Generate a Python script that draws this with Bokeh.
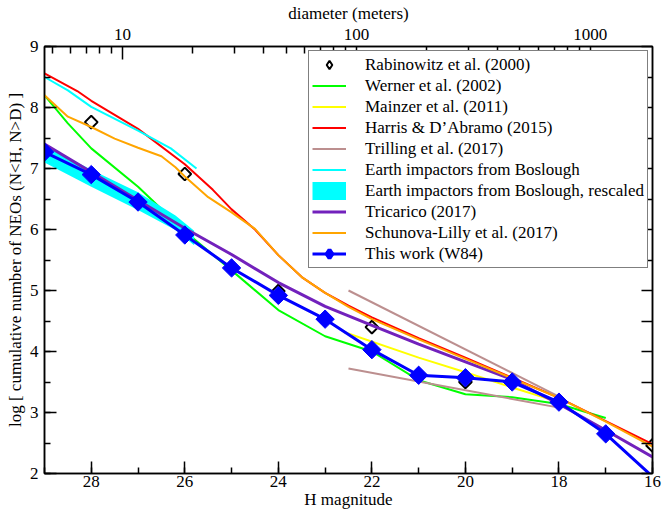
import numpy as np
from bokeh.plotting import figure
from bokeh.models import (Range1d, LinearAxis, LogAxis, LogScale, FixedTicker,
                          SingleIntervalTicker, Legend, LegendItem, NumeralTickFormatter)
from bokeh.embed import file_html
from bokeh.resources import INLINE

FONT = "Liberation Serif"

# ---------------- data ----------------
rab_h = [28, 26, 24, 22, 20, 16]
rab_v = [7.76, 6.91, 4.99, 4.40, 3.50, 2.46]

werner_h = [29, 28.5, 28, 27, 26, 25, 24, 23, 22, 21, 20, 19, 18, 17]
werner_v = [8.20, 7.74, 7.33, 6.70, 5.97, 5.33, 4.68, 4.25, 4.00, 3.53, 3.30, 3.25, 3.14, 2.91]

mainzer_h = [22.6, 21, 20, 19, 18]
mainzer_v = [4.32, 3.90, 3.66, 3.41, 3.17]

harris_h = [29, 28.3, 28, 27, 26, 25.4, 25, 24.5, 24, 23.5, 23, 22.5, 22, 21, 20, 19, 18, 17, 16]
harris_v = [8.56, 8.27, 8.11, 7.65, 7.07, 6.65, 6.33, 6.00, 5.58, 5.22, 4.96, 4.75, 4.56,
            4.22, 3.90, 3.57, 3.24, 2.86, 2.48]

trilling_hi_h = [22.5, 18.0]
trilling_hi_v = [5.00, 3.26]
trilling_lo_h = [22.5, 18.0]
trilling_lo_v = [3.72, 3.08]

bos_h = [29, 28.5, 28, 27, 26.3, 25.75]
bos_v = [8.50, 8.28, 8.01, 7.62, 7.33, 7.00]

bosr_h = [29, 28, 27, 26.2, 25.8]
bosr_lo = [7.10, 6.70, 6.32, 5.99, 5.74]
bosr_hi = [7.38, 6.98, 6.61, 6.23, 5.98]

tric_h = [29, 28, 27, 26.5, 26, 25, 24, 23, 22, 21, 20, 19, 18, 17, 16]
tric_v = [7.40, 6.94, 6.48, 6.25, 6.02, 5.59, 5.13, 4.74, 4.43, 4.12, 3.83, 3.54, 3.14, 2.71, 2.27]

schun_h = [29, 28.5, 28, 27.5, 27, 26.5, 26.2, 26, 25.5, 25, 24.5, 24, 23.5, 23, 22.5, 22,
           21, 20, 19, 18, 17, 16]
schun_v = [8.20, 7.85, 7.68, 7.49, 7.34, 7.20, 7.02, 6.87, 6.53, 6.28, 6.01, 5.58, 5.22, 4.96,
           4.73, 4.53, 4.20, 3.88, 3.56, 3.24, 2.85, 2.44]

work_h = [29, 28, 27, 26, 25, 24, 23, 22, 21, 20, 19, 18, 17, 16]
work_v = [7.27, 6.90, 6.45, 5.91, 5.37, 4.92, 4.53, 4.03, 3.61, 3.57, 3.50, 3.17, 2.65, 1.95]

diam_major = [10, 100, 1000]
diam_minor = [5, 6, 7, 8, 9, 20, 30, 40, 50, 60, 70, 80, 90,
              200, 300, 400, 500, 600, 700, 800, 900]
right_ticks = [2, 2.5, 3, 3.5, 4, 4.5, 5, 5.5, 6, 6.5, 7, 7.5, 8, 8.5, 9]

H_MIN, H_MAX = 16, 29
H_1KM = 17.33  # H of a 1 km body for the top axis conversion


def diam(h):
    return 1000.0 * 10 ** ((H_1KM - h) / 5.0)


# ---------------- figure ----------------
p = figure(width=662, height=512, x_range=Range1d(H_MAX, H_MIN), y_range=Range1d(2, 9),
           output_backend="svg", toolbar_location=None,
           x_axis_location=None, y_axis_location=None,
           min_border_left=44, min_border_right=10, min_border_top=46, min_border_bottom=39)
p.grid.visible = False
p.outline_line_color = "black"
p.outline_line_width = 1.5
p.background_fill_color = "white"
p.border_fill_color = "white"

p.extra_x_ranges = {"diam": Range1d(diam(H_MAX), diam(H_MIN))}
p.extra_x_scales = {"diam": LogScale()}


def style(ax, major=12, minor=6):
    ax.major_label_text_font = FONT
    ax.major_label_text_font_size = "17px"
    ax.major_label_text_color = "black"
    ax.axis_label_text_font = FONT
    ax.axis_label_text_font_size = "17px"
    ax.axis_label_text_font_style = "normal"
    ax.axis_label_text_color = "black"
    ax.major_tick_in = major
    ax.major_tick_out = 0
    ax.minor_tick_in = minor
    ax.minor_tick_out = 0
    ax.axis_line_width = 1.5
    ax.major_tick_line_width = 1.5
    ax.minor_tick_line_width = 1.5
    ax.axis_line_color = "black"
    ax.major_tick_line_color = "black"
    ax.minor_tick_line_color = "black"


xb = LinearAxis(ticker=SingleIntervalTicker(interval=2, num_minor_ticks=2), axis_label="H magnitude")
style(xb)
xb.major_label_standoff = 2
xb.axis_label_standoff = 0
p.add_layout(xb, "below")

yl = LinearAxis(ticker=SingleIntervalTicker(interval=1, num_minor_ticks=2),
                axis_label="log [ cumulative number of NEOs (N<H, N>D) ]")
style(yl)
yl.major_label_standoff = 6
yl.axis_label_standoff = 2
p.add_layout(yl, "left")

# right axis: ticks only (no major ticks -> no labels)
yr = LinearAxis(ticker=FixedTicker(ticks=[], minor_ticks=right_ticks))
style(yr, major=11, minor=11)
p.add_layout(yr, "right")

xt = LogAxis(x_range_name="diam", ticker=FixedTicker(ticks=diam_major, minor_ticks=diam_minor),
             formatter=NumeralTickFormatter(format="0"), axis_label="diameter (meters)")
style(xt, major=13, minor=7)
xt.major_label_standoff = 7
xt.axis_label_standoff = 3
p.add_layout(xt, "above")

# ---------------- glyphs ----------------
r_rab = p.scatter(rab_h, rab_v, marker="square", angle=np.pi / 4, size=9,
                  fill_color="white", line_color="black", line_width=2)
r_wer = p.line(werner_h, werner_v, line_color="#00ff00", line_width=2)
r_mai = p.line(mainzer_h, mainzer_v, line_color="#ffff00", line_width=2)
r_har = p.line(harris_h, harris_v, line_color="#ff0000", line_width=2)
r_tr1 = p.line(trilling_hi_h, trilling_hi_v, line_color="#bc8f8f", line_width=2)
r_tr2 = p.line(trilling_lo_h, trilling_lo_v, line_color="#bc8f8f", line_width=2)
r_bos = p.line(bos_h, bos_v, line_color="#00ffff", line_width=2)
r_bosr = p.varea(x=bosr_h, y1=bosr_lo, y2=bosr_hi, fill_color="#00ffff")
r_tri = p.line(tric_h, tric_v, line_color="#7221bc", line_width=3)
r_sch = p.line(schun_h, schun_v, line_color="#ffa500", line_width=2)
r_wl = p.line(work_h, work_v, line_color="#0000ff", line_width=3)
r_wm = p.scatter(work_h[:-1], work_v[:-1], marker="square", angle=np.pi / 4, size=13,
                 fill_color="#0000ff", line_color="#0000ff")

# legend-only proxies (the legend draws markers unrotated)
nan2 = [np.nan, np.nan]
k_rab = p.scatter(nan2, nan2, marker="diamond", fill_color="white", line_color="black", line_width=2)
k_bosr = p.line(nan2, nan2, line_color="#00ffff", line_width=18, line_cap="butt")
k_work = p.scatter(nan2, nan2, marker="diamond", fill_color="#0000ff", line_color="#0000ff",
                   line_width=4)

items = [
    LegendItem(label="Rabinowitz et al. (2000)", renderers=[k_rab]),
    LegendItem(label="Werner et al. (2002)", renderers=[r_wer]),
    LegendItem(label="Mainzer et al. (2011)", renderers=[r_mai]),
    LegendItem(label="Harris & D\u2019Abramo (2015)", renderers=[r_har]),
    LegendItem(label="Trilling et al. (2017)", renderers=[r_tr1]),
    LegendItem(label="Earth impactors from Boslough", renderers=[r_bos]),
    LegendItem(label="Earth impactors from Boslough, rescaled", renderers=[k_bosr]),
    LegendItem(label="Tricarico (2017)", renderers=[r_tri]),
    LegendItem(label="Schunova-Lilly et al. (2017)", renderers=[r_sch]),
    LegendItem(label="This work (W84)", renderers=[r_wl, k_work]),
]
leg = Legend(items=items, location=(264, 205))
leg.label_text_font = FONT
leg.label_text_font_size = "17px"
leg.label_text_color = "black"
leg.glyph_width = 34
leg.glyph_height = 21
leg.label_height = 21
leg.spacing = 0
leg.padding = 3
leg.margin = 0
leg.label_standoff = 19
leg.border_line_color = "black"
leg.border_line_width = 1.5
leg.background_fill_color = "white"
leg.background_fill_alpha = 1.0
p.add_layout(leg, "center")

open("out.html", "w").write(file_html(p, INLINE))
